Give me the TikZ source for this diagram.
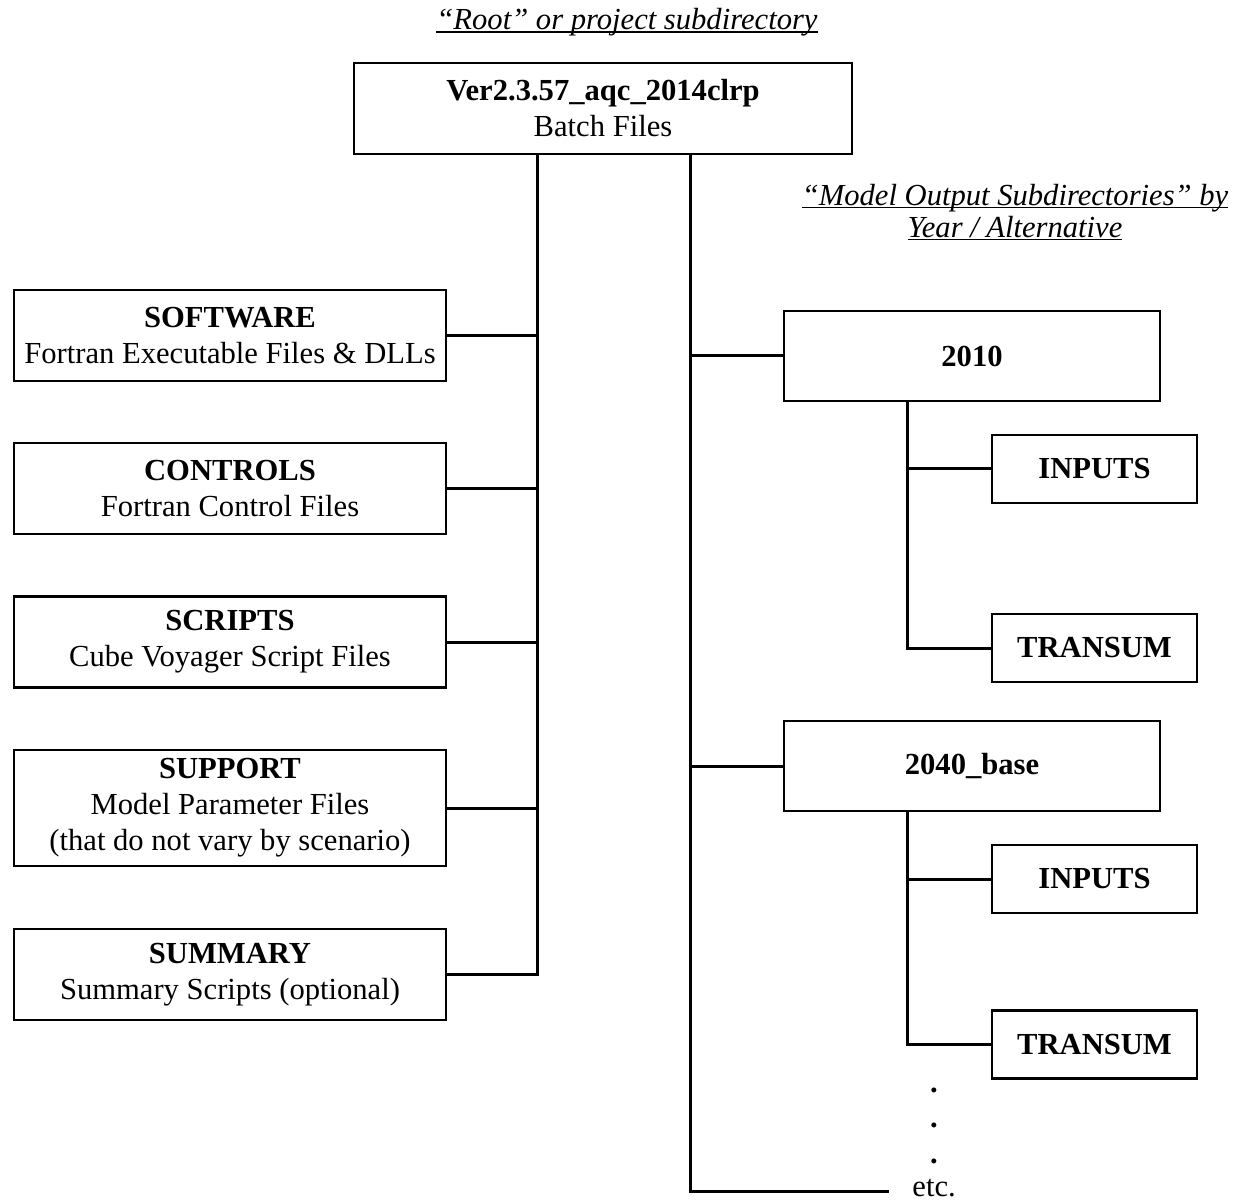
\documentclass[tikz,border=0pt]{standalone}
\usepackage{fontspec}
\setmainfont{Liberation Serif}
\usetikzlibrary{positioning}
\newsavebox{\ulinebox}
\newcommand{\ulinetext}[1]{\sbox{\ulinebox}{#1}\rlap{\rule[-1.6pt]{\wd\ulinebox}{0.6pt}}\usebox{\ulinebox}}

\begin{document}
\begin{tikzpicture}[x=0.5pt,y=-0.5pt,
  font=\fontsize{15.3pt}{18pt}\selectfont,
  box/.style={draw,line width=1.1pt,align=center,inner sep=0pt},
  dirbox/.style={box,minimum width=216pt,minimum height=45.5pt},
  yearbox/.style={box,minimum width=188pt,minimum height=45pt},
  subbox/.style={box,minimum width=102.5pt,minimum height=34pt},
  link/.style={line width=1.5pt},
  heading/.style={align=center,font=\fontsize{15.3pt}{16pt}\selectfont\itshape}]
  \useasboundingbox (0,0) rectangle (1235,1202);
  \node (roothead) [heading] at (627,22) {\ulinetext{“Root” or project subdirectory}};
  \node (root) [box,minimum width=249pt,minimum height=45.5pt] at (603,108.5) {\textbf{Ver2.3.57\_aqc\_2014clrp}\\Batch Files};
  \node (software) [dirbox] at (230,335.5) {\textbf{SOFTWARE}\\Fortran Executable Files \& DLLs};
  \node (controls) [dirbox] at (230,488.5) {\textbf{CONTROLS}\\Fortran Control Files};
  \node (scripts) [dirbox] at (230,642) {\textbf{SCRIPTS}\\Cube Voyager Script Files};
  \node (support) [dirbox,minimum height=58pt] at (230,808) {\textbf{SUPPORT}\\Model Parameter Files\\(that do not vary by scenario)};
  \node (summary) [dirbox] at (230,974.5) {\textbf{SUMMARY}\\Summary Scripts (optional)};
  \node (outhead) [heading] at (1015,212) {\ulinetext{“Model Output Subdirectories” by}\\\ulinetext{Year / Alternative}};
  \node (y2010) [yearbox] at (972,356) {\textbf{2010}};
  \node (inputsA) [subbox] at (1094.5,469) {\textbf{INPUTS}};
  \node (transumA) [subbox] at (1094.5,648) {\textbf{TRANSUM}};
  \node (y2040) [yearbox] at (972,766) {\textbf{2040\_base}};
  \node (inputsB) [subbox] at (1094.5,879) {\textbf{INPUTS}};
  \node (transumB) [subbox] at (1094.5,1044.5) {\textbf{TRANSUM}};
  \node (dot1) [anchor=base] at (934,1092) {\textbf{.}};
  \node (dot2) [anchor=base] at (934,1127.5) {\textbf{.}};
  \node (dot3) [anchor=base] at (934,1163) {\textbf{.}};
  \coordinate (lspine) at (537,0);
  \coordinate (rspine) at (690,0);
  \coordinate (sub) at (907,0);
  \coordinate (etcend) at (889,1191);
  \node (etc) [anchor=base west,inner sep=0pt] at (912,1196) {etc.};
  \draw[link] (root.south -| lspine) |- (summary.east);
  \draw[link] (software.east) -- (software.east -| lspine);
  \draw[link] (controls.east) -- (controls.east -| lspine);
  \draw[link] (scripts.east) -- (scripts.east -| lspine);
  \draw[link] (support.east) -- (support.east -| lspine);
  \draw[link] (root.south -| rspine) |- (etcend);
  \draw[link] (y2010.west) -- (y2010.west -| rspine);
  \draw[link] (y2040.west) -- (y2040.west -| rspine);
  \draw[link] (y2010.south -| sub) |- (transumA.west);
  \draw[link] (inputsA.west) -- (inputsA.west -| sub);
  \draw[link] (y2040.south -| sub) |- (transumB.west);
  \draw[link] (inputsB.west) -- (inputsB.west -| sub);
\end{tikzpicture}
\end{document}
